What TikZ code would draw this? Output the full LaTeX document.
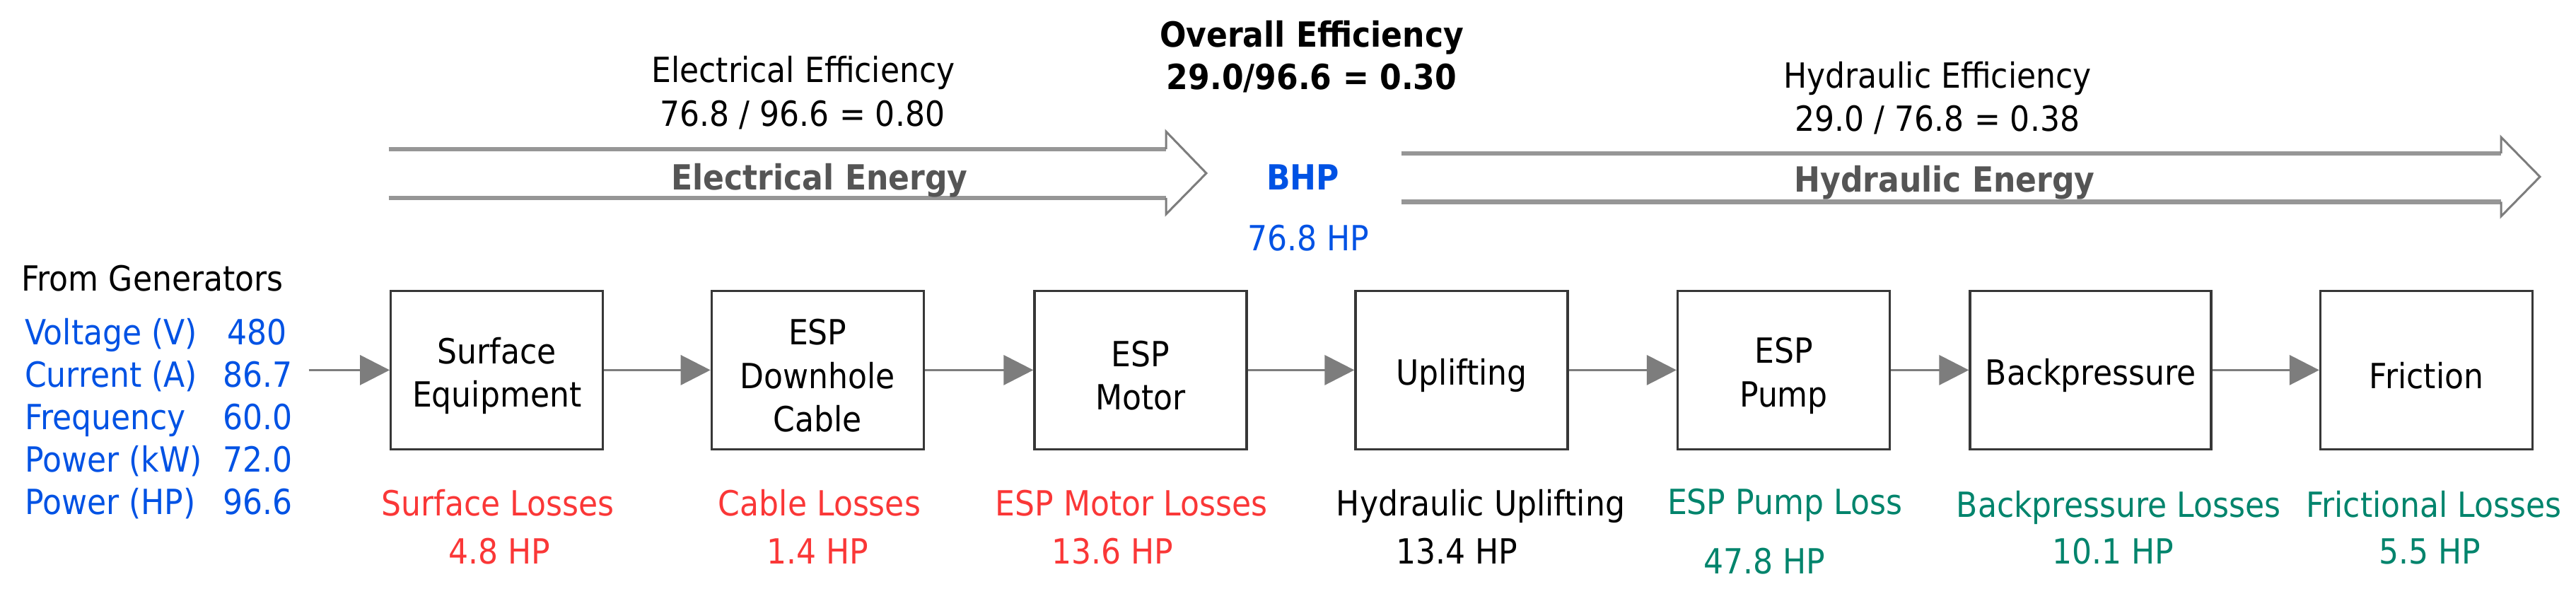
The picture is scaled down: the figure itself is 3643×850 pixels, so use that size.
\documentclass[tikz,border=0pt]{standalone}
\usepackage{fontspec}
\setmainfont{DejaVu Sans}[FakeStretch=0.9]
\usetikzlibrary{arrows.meta}
\definecolor{vblue}{RGB}{0,82,228}
\definecolor{vred}{RGB}{250,55,55}
\definecolor{vgreen}{RGB}{0,132,108}
\definecolor{vgray}{RGB}{85,85,85}
\definecolor{boxline}{RGB}{55,55,55}
\definecolor{connline}{RGB}{125,125,125}
\definecolor{shaftline}{RGB}{150,150,150}
\definecolor{headline}{RGB}{125,125,125}
\begin{document}
\begin{tikzpicture}[x=0.2pt,y=-0.2pt,
  txt/.style={inner sep=0pt, outer sep=0pt, anchor=base, font=\fontsize{9.8}{12.3}\selectfont},
  ltxt/.style={txt, anchor=base west},
  btxt/.style={txt, font=\fontsize{9.8}{12.3}\selectfont\bfseries},
  stagebox/.style={draw=boxline, line width=0.65pt, fill=white, minimum width=60pt, minimum height=44.7pt,
    inner sep=0pt},
  boxlbl/.style={inner sep=0pt, align=center, yshift=-1.6pt, font=\fontsize{9.8}{12.3}\selectfont},
  conn/.style={draw=connline, line width=0.7pt, -{Triangle[length=8.4pt,width=8.4pt]}},
  shaft/.style={draw=shaftline, line width=1.25pt},
  head/.style={draw=headline, line width=0.6pt, line join=miter}
]
\useasboundingbox (0,0) rectangle (3643,850);

% big energy arrows
\draw[shaft] (549.5,211) -- (1649,211);
\draw[shaft] (549.5,280) -- (1649,280);
\draw[head] (1649,211) -- (1649,186) -- (1706,245) -- (1649,303) -- (1649,280);
\draw[shaft] (1981.7,217) -- (3537,217);
\draw[shaft] (1981.7,285.5) -- (3537,285.5);
\draw[head] (3537,217) -- (3537,194) -- (3592,250) -- (3537,306) -- (3537,285.5);

% top labels
\node[txt] (eleff) at (1136,116.7) {Electrical Efficiency};
\node[txt] (eleffv) at (1135,178.3) {76.8 / 96.6 = 0.80};
\node[btxt] (oveff) at (1855,66.7) {Overall Efficiency};
\node[btxt] (oveffv) at (1855,126.7) {29.0/96.6 = 0.30};
\node[txt] (hyeff) at (2740,125) {Hydraulic Efficiency};
\node[txt] (hyeffv) at (2740,186) {29.0 / 76.8 = 0.38};
\node[btxt, text=vgray] (eleng) at (1159,268.3) {Electrical Energy};
\node[btxt, text=vgray] (hyeng) at (2750,271.7) {Hydraulic Energy};
\node[btxt, text=vblue] (bhp) at (1842.5,268.3) {BHP};
\node[txt, text=vblue] (bhpv) at (1850.5,355) {76.8 HP};

% generator data
\node[ltxt] (fromgen) at (30.6,411.7) {From Generators};
\node[ltxt, text=vblue] (lv) at (35,488) {Voltage (V)};
\node[ltxt, text=vblue] (la) at (35,548) {Current (A)};
\node[ltxt, text=vblue] (lf) at (35,608) {Frequency};
\node[ltxt, text=vblue] (lkw) at (35,668) {Power (kW)};
\node[ltxt, text=vblue] (lhp) at (35,728) {Power (HP)};
\node[ltxt, text=vblue] (vv) at (321,488) {480};
\node[ltxt, text=vblue] (va) at (315,548) {86.7};
\node[ltxt, text=vblue] (vf) at (315,608) {60.0};
\node[ltxt, text=vblue] (vkw) at (315,668) {72.0};
\node[ltxt, text=vblue] (vhp) at (315,728) {96.6};

% stage boxes
\node[stagebox, label={[boxlbl, name=t1]center:{Surface\\Equipment}}] (b1) at (702.7,523.4) {};
\node[stagebox, label={[boxlbl, name=t2]center:{ESP\\Downhole\\Cable}}] (b2) at (1156.3,523.4) {};
\node[stagebox, label={[boxlbl, name=t3]center:{ESP\\Motor}}] (b3) at (1613,523.4) {};
\node[stagebox, label={[boxlbl, name=t4]center:{Uplifting}}] (b4) at (2067,523.4) {};
\node[stagebox, label={[boxlbl, name=t5]center:{ESP\\Pump}}] (b5) at (2522.5,523.4) {};
\node[stagebox, minimum width=68.2pt, label={[boxlbl, name=t6]center:{Backpressure}}] (b6) at (2956.5,523.4) {};
\node[stagebox, label={[boxlbl, name=t7]center:{Friction}}] (b7) at (3431.5,523.4) {};

% connectors
\coordinate (gen) at (436.7,523.4);
\draw[conn] (gen) -- (b1.west);
\draw[conn] (b1.east) -- (b2.west);
\draw[conn] (b2.east) -- (b3.west);
\draw[conn] (b3.east) -- (b4.west);
\draw[conn] (b4.east) -- (b5.west);
\draw[conn] (b5.east) -- (b6.west);
\draw[conn] (b6.east) -- (b7.west);

% losses
\node[txt, text=vred] (l1) at (704,730) {Surface Losses};
\node[txt, text=vred] (l1v) at (706,798) {4.8 HP};
\node[txt, text=vred] (l2) at (1159,730) {Cable Losses};
\node[txt, text=vred] (l2v) at (1156,798) {1.4 HP};
\node[txt, text=vred] (l3) at (1600,730) {ESP Motor Losses};
\node[txt, text=vred] (l3v) at (1573,798) {13.6 HP};
\node[txt] (l4) at (2094,730) {Hydraulic Uplifting};
\node[txt] (l4v) at (2060,798) {13.4 HP};
\node[txt, text=vgreen] (l5) at (2524,728) {ESP Pump Loss};
\node[txt, text=vgreen] (l5v) at (2495,811.7) {47.8 HP};
\node[txt, text=vgreen] (l6) at (2996,731.7) {Backpressure Losses};
\node[txt, text=vgreen] (l6v) at (2988,798) {10.1 HP};
\node[txt, text=vgreen] (l7) at (3442,731.7) {Frictional Losses};
\node[txt, text=vgreen] (l7v) at (3436,798) {5.5 HP};
\end{tikzpicture}
\end{document}
